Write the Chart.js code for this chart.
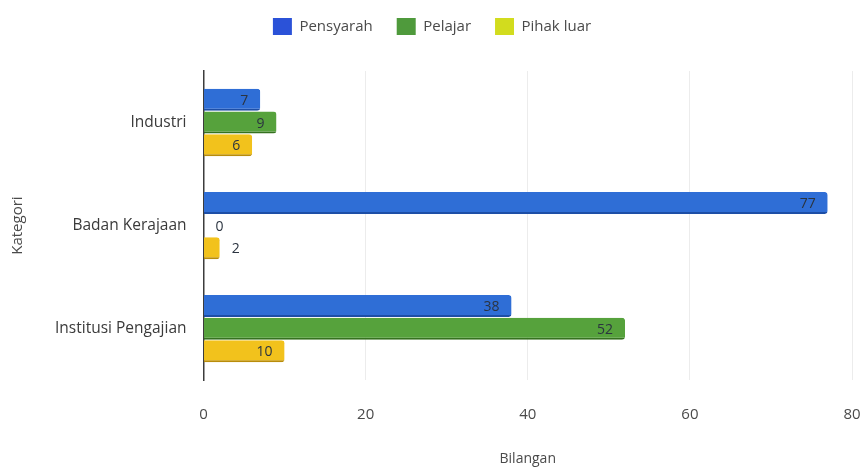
<!DOCTYPE html>
<html>
<head>
<meta charset="utf-8">
<script src="https://cdn.jsdelivr.net/npm/chart.js@4/dist/chart.umd.min.js"></script>
<style>
  html, body { margin: 0; padding: 0; background: #fff; }
  #wrap { width: 864px; height: 467px; }
</style>
</head>
<body>
<div id="wrap"><canvas id="chart" width="864" height="467"></canvas></div>
<script>
// data
var categories = ['Industri', 'Badan Kerajaan', 'Institusi Pengajian'];
var pensyarah  = [7, 77, 38];
var pelajar    = [9, 0, 52];
var pihakLuar  = [6, 2, 10];
var xTicks     = [0, 20, 40, 60, 80];

var FONT = "'Open Sans', sans-serif";

var colors = {
  blue:   '#2f6ed6', blueEdge:   '#1d4ea6', blueKey:   '#2b52d8',
  green:  '#56a23c', greenEdge:  '#35711f', greenKey:  '#4f9a3c',
  yellow: '#f2c21c', yellowEdge: '#b88c0a', yellowKey: '#d2dc1e',
  text:   '#4a4a4a',
  grid:   '#ececec',
  axis:   '#3c3c3c'
};

// value labels at the end of each bar
var barValueLabels = {
  id: 'barValueLabels',
  afterDatasetsDraw: function (chart) {
    var ctx = chart.ctx;
    ctx.save();
    ctx.font = '14px ' + FONT;
    ctx.fillStyle = '#2b3440';
    ctx.textBaseline = 'middle';
    chart.data.datasets.forEach(function (ds, i) {
      chart.getDatasetMeta(i).data.forEach(function (bar, j) {
        var v = ds.data[j];
        var len = bar.x - bar.base;
        if (len < 24) {
          ctx.textAlign = 'left';
          ctx.fillText(String(v), bar.x + 12, bar.y + 1);
        } else {
          ctx.textAlign = 'right';
          ctx.fillText(String(v), bar.x - 12, bar.y + 1);
        }
      });
    });
    ctx.restore();
  }
};

// more room under the legend
var legendGap = {
  id: 'legendGap',
  beforeLayout: function (chart) {
    var lg = chart.legend;
    if (lg && !lg._gapPatched) {
      var fit = lg.fit;
      lg.fit = function () {
        fit.call(this);
        this.height += 26;
      };
      lg._gapPatched = true;
    }
  }
};

function series(label, data, fill, edge, key) {
  return {
    label: label,
    data: data,
    backgroundColor: fill,
    borderColor: edge,
    borderWidth: { top: 0, left: 0, right: 0, bottom: 2 },
    borderSkipped: false,
    borderRadius: { topRight: 3, bottomRight: 3 },
    keyColor: key,
    barPercentage: 0.97,
    categoryPercentage: 0.66
  };
}

new Chart(document.getElementById('chart'), {
  type: 'bar',
  data: {
    labels: categories,
    datasets: [
      series('Pensyarah', pensyarah, colors.blue, colors.blueEdge, colors.blueKey),
      series('Pelajar', pelajar, colors.green, colors.greenEdge, colors.greenKey),
      series('Pihak luar', pihakLuar, colors.yellow, colors.yellowEdge, colors.yellowKey)
    ]
  },
  plugins: [barValueLabels, legendGap],
  options: {
    indexAxis: 'y',
    responsive: false,
    animation: false,
    layout: { padding: { left: 0, right: 0, top: -6, bottom: 0 } },
    plugins: {
      tooltip: { enabled: false },
      legend: {
        position: 'top',
        labels: {
          color: colors.text,
          font: { family: FONT, size: 15 },
          boxWidth: 19,
          boxHeight: 17,
          padding: 24,
          generateLabels: function (chart) {
            return chart.data.datasets.map(function (ds, i) {
              return {
                text: ds.label,
                fillStyle: ds.keyColor,
                strokeStyle: ds.keyColor,
                lineWidth: 0,
                fontColor: colors.text,
                datasetIndex: i
              };
            });
          }
        }
      }
    },
    scales: {
      x: {
        min: 0,
        max: 80,
        afterBuildTicks: function (axis) {
          axis.ticks = xTicks.map(function (v) { return { value: v }; });
        },
        afterFit: function (axis) {
          // keep the "80" label close to the right edge
          axis.paddingRight = 12;
        },
        grid: { color: colors.grid, drawTicks: false },
        border: { display: false },
        ticks: {
          color: colors.text,
          padding: 26,
          font: { family: FONT, size: 15 }
        },
        title: {
          display: true,
          text: 'Bilangan',
          color: colors.text,
          padding: { top: 0, bottom: 0 },
          font: { family: FONT, size: 14 }
        }
      },
      y: {
        grid: { display: false, drawTicks: false },
        border: { display: true, color: colors.axis, width: 1.5 },
        ticks: {
          color: '#3a3a3a',
          padding: 17,
          font: { family: FONT, size: 15.5 }
        },
        title: {
          display: true,
          text: 'Kategori',
          color: colors.text,
          padding: { top: 9, bottom: 11 },
          font: { family: FONT, size: 15 }
        }
      }
    }
  }
});
</script>
</body>
</html>
